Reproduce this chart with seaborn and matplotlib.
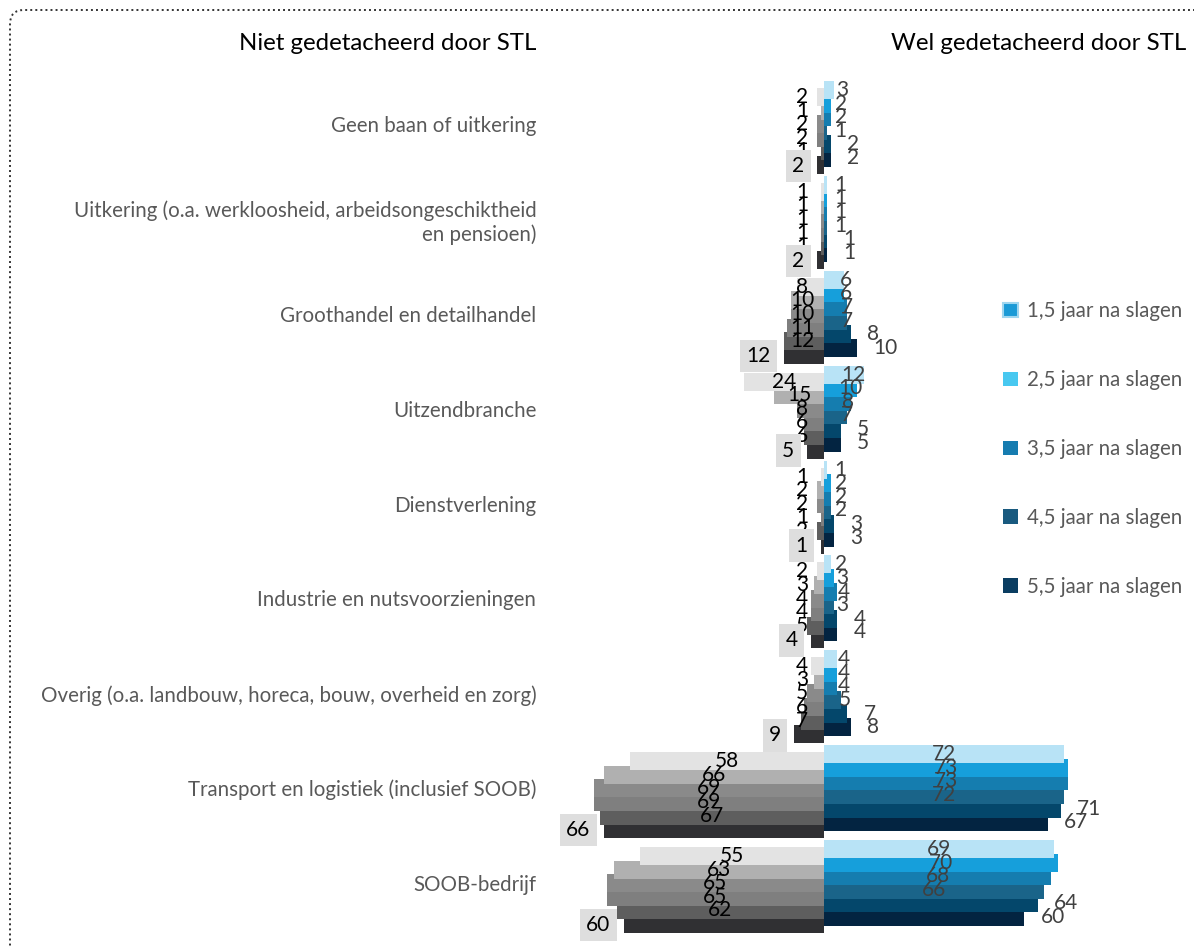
import pandas as pd
import seaborn as sns
import matplotlib.pyplot as plt
from matplotlib.patches import Patch, FancyBboxPatch
from matplotlib.transforms import IdentityTransform

categories = ["Geen baan of uitkering",
              "Uitkering (o.a. werkloosheid, arbeidsongeschiktheid\nen pensioen)",
              "Groothandel en detailhandel",
              "Uitzendbranche",
              "Dienstverlening",
              "Industrie en nutsvoorzieningen",
              "Overig (o.a. landbouw, horeca, bouw, overheid en zorg)",
              "Transport en logistiek (inclusief SOOB)",
              "SOOB-bedrijf"]
series = ["reeks 1", "reeks 2", "reeks 3", "reeks 4", "reeks 5", "reeks 6"]

# percentages, one row per category, one column per series
niet = [[2, 1, 2, 2, 1, 2],
        [1, 1, 1, 1, 1, 2],
        [8, 10, 10, 11, 12, 12],
        [24, 15, 8, 6, 6, 5],
        [1, 2, 2, 1, 2, 1],
        [2, 3, 4, 4, 5, 4],
        [4, 3, 5, 6, 7, 9],
        [58, 66, 69, 69, 67, 66],
        [55, 63, 65, 65, 62, 60]]
wel = [[3, 2, 2, 1, 2, 2],
       [1, 1, 1, 1, 1, 1],
       [6, 6, 7, 7, 8, 10],
       [12, 10, 8, 7, 5, 5],
       [1, 2, 2, 2, 3, 3],
       [2, 3, 4, 3, 4, 4],
       [4, 4, 4, 5, 7, 8],
       [72, 73, 73, 72, 71, 67],
       [69, 70, 68, 66, 64, 60]]

legendLabels = ["1,5 jaar na slagen", "2,5 jaar na slagen", "3,5 jaar na slagen",
                "4,5 jaar na slagen", "5,5 jaar na slagen"]

greys = ["#e3e3e3", "#b0b0b0", "#8a8a8a", "#7f7f7f", "#5e5e5e", "#303033"]
blues = ["#b8e3f6", "#169fdb", "#157daf", "#1a6489", "#04476b", "#032441"]
legendColors = ["#1a9ad6", "#48c8f0", "#167cb0", "#195a7f", "#0a3d61"]

rows = []
for i, cat in enumerate(categories):
    for j, s in enumerate(series):
        rows.append({"categorie": cat, "reeks": s, "niet": -niet[i][j], "wel": wel[i][j]})
df = pd.DataFrame(rows)

plt.rcParams['font.family'] = ['Lato', 'DejaVu Sans']

W, H = 1194, 947
fig = plt.figure(figsize=(W / 100, H / 100), dpi=100)
axLeft = 546
ax = fig.add_axes([axLeft / W, 0, (W - axLeft) / W, 1])

sns.barplot(data=df, x="niet", y="categorie", hue="reeks", order=categories, hue_order=series,
            palette=greys, orient="h", width=0.86, dodge=True, errorbar=None,
            saturation=1, linewidth=0, legend=False, ax=ax)
sns.barplot(data=df, x="wel", y="categorie", hue="reeks", order=categories, hue_order=series,
            palette=blues, orient="h", width=0.86, dodge=True, errorbar=None,
            saturation=1, linewidth=0, legend=False, ax=ax)

pxUnit = 3.34      # pixels per percent
zeroX = 824
catPx = 94.875     # pixels between categories
firstY = 124
ax.set_xlim(-(zeroX - axLeft) / pxUnit, (W - zeroX) / pxUnit)
ax.set_ylim((H - firstY) / catPx, -firstY / catPx)

barH = 18 / catPx
shiftL = 7 / catPx
valSize = 15

for j, cont in enumerate(ax.containers[:6]):
    for i, bar in enumerate(cont):
        bar.set_y(bar.get_y() - 0.023 + shiftL)
        bar.set_height(barH)
        bar.set_zorder(2 - 0.1 * j)
        v = niet[i][j]
        yc = bar.get_y() + barH / 2
        if j < 5:
            ax.text(-max(v / 2, 6.5), yc, str(v), ha="center", va="center",
                    fontsize=valSize, color="black", zorder=5)
        else:
            ax.text(-(v + 13 / pxUnit), yc + 1 / catPx, str(v), ha="right", va="center",
                    fontsize=valSize, color="black", zorder=5,
                    bbox=dict(facecolor="#dedede", edgecolor="none", pad=4.5))

for j, cont in enumerate(ax.containers[6:12]):
    for i, bar in enumerate(cont):
        bar.set_y(bar.get_y() - 0.023)
        bar.set_height(barH)
        bar.set_zorder(2 - 0.1 * j)
        v = wel[i][j]
        yc = bar.get_y() + barH / 2
        if j < 4:
            ax.text(max(v / 2, 0.35 * v + 4.5), yc, str(v), ha="center", va="center",
                    fontsize=valSize, color="#404040", zorder=5)
        else:
            ax.text(v + 16 / pxUnit, yc, str(v), ha="left", va="center",
                    fontsize=valSize, color="#404040", zorder=5)

for s in ax.spines.values():
    s.set_visible(False)
ax.set_xticks([])
ax.set_xlabel("")
ax.set_ylabel("")
ax.tick_params(axis="y", length=0, pad=7, labelsize=14.8, labelcolor="#595959")

fig.text(536 / W, 1 - 44 / H, "Niet gedetacheerd door STL", ha="right", va="center",
         fontsize=17.3, color="black")
fig.text(1186 / W, 1 - 44 / H, "Wel gedetacheerd door STL", ha="right", va="center",
         fontsize=17.3, color="black")

handles = []
for k, c in enumerate(legendColors):
    if k == 0:
        handles.append(Patch(facecolor=c, edgecolor="#9fd6ef", linewidth=1.5))
    else:
        handles.append(Patch(facecolor=c, edgecolor="none"))
fig.legend(handles, legendLabels, loc="upper left", bbox_to_anchor=(995 / W, 1 - 293 / H),
           frameon=False, fontsize=14.8, handlelength=0.72, handleheight=0.72,
           handletextpad=0.45, labelspacing=2.38, labelcolor="#595959", borderaxespad=0)

border = FancyBboxPatch((10, -60), 1300, H - 10 + 60, boxstyle="round,pad=0,rounding_size=14",
                        transform=IdentityTransform(), fill=False, edgecolor="#333333",
                        linewidth=1.4, linestyle=(0, (1, 1.6)))
fig.patches.append(border)

plt.savefig("out.png", dpi=100)
